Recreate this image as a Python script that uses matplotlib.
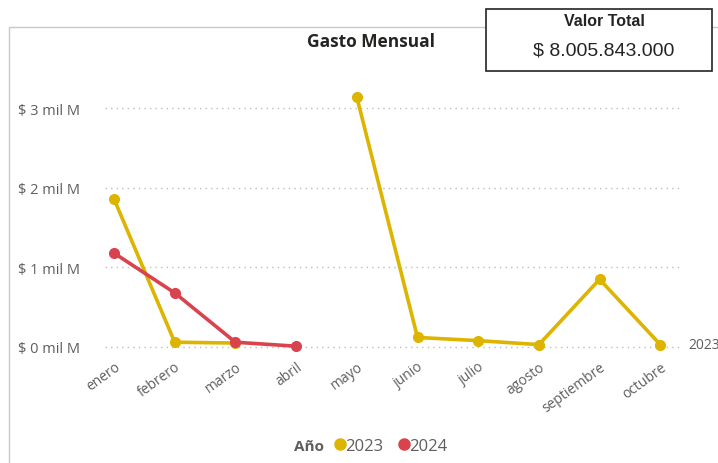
import matplotlib.pyplot as plt
from matplotlib.lines import Line2D
from matplotlib.patches import Rectangle
from matplotlib.transforms import ScaledTranslation
import numpy as np

# ── Data (miles de millones de pesos) ─────────────────────────────────────────
meses = ['enero', 'febrero', 'marzo', 'abril', 'mayo',
         'junio', 'julio', 'agosto', 'septiembre', 'octubre']
gasto_2023 = [1.86, 0.06, 0.05, np.nan, 3.14, 0.12, 0.08, 0.03, 0.85, 0.03]
gasto_2024 = [1.18, 0.68, 0.06, 0.01]
yticks = [0, 1, 2, 3]
valor_total = '$ 8.005.843.000'

C23 = '#DDB400'
C24 = '#D9434E'
GRAY = '#605E5C'

plt.rcParams['font.family'] = ['Open Sans', 'DejaVu Sans']

W, H = 718, 464
fig = plt.figure(figsize=(W / 100, H / 100), dpi=100)


def fx(px):
    return px / W


def fy(py):
    return 1 - py / H


# chart frame
fig.add_artist(Rectangle((fx(9), fy(500)), fx(740) - fx(9), fy(28) - fy(500),
                         transform=fig.transFigure, fill=False,
                         edgecolor='#C8C8C8', lw=1.0))

# ── Plot area ─────────────────────────────────────────────────────────────────
left, right, top, bottom = 105, 683, 90, 360
ax = fig.add_axes([fx(left), fy(bottom), fx(right) - fx(left), fy(top) - fy(bottom)])
x = np.arange(len(meses))
ax.plot(x, gasto_2023, color=C23, lw=2.6, marker='o', ms=7, zorder=3)
ax.plot(x[:len(gasto_2024)], gasto_2024, color=C24, lw=2.6, marker='o', ms=7, zorder=4)

step = 60.7
ax.set_xlim((left - 114) / step, (right - 114) / step)
ax.set_ylim((348 - bottom) / 79.6, (348 - top) / 79.6)

ax.set_yticks(yticks)
ax.set_yticklabels([f'$ {v} mil M' for v in yticks], color=GRAY, fontsize=10.5)
ax.yaxis.grid(True, linestyle=(0, (1, 3)), color='#BDBDBD', lw=1)
ax.set_xticks(x)
ax.set_xticklabels(meses, rotation=36, ha='right', va='top',
                   rotation_mode='anchor', color=GRAY, fontsize=10)
shift = ScaledTranslation(-10 / 100, 0, fig.dpi_scale_trans)
for lbl in ax.get_xticklabels():
    lbl.set_transform(lbl.get_transform() + shift)
ax.tick_params(length=0)
ax.tick_params(axis='y', pad=18)
ax.tick_params(axis='x', pad=0)
for s in ax.spines.values():
    s.set_visible(False)
ax.patch.set_alpha(0)

# series label at the end of the line (runs off the right edge)
ax.text(9.46, gasto_2023[-1], '2023', color=GRAY, fontsize=10,
        va='center', ha='left', clip_on=False)

# ── Title ─────────────────────────────────────────────────────────────────────
fig.text(fx(371), fy(42), 'Gasto Mensual', ha='center', va='center',
         fontsize=12.5, fontweight='bold', color='#252423')

# ── Card ──────────────────────────────────────────────────────────────────────
fig.add_artist(Rectangle((fx(486), fy(72)), fx(712) - fx(486), fy(10) - fy(72),
                         transform=fig.transFigure, facecolor='white',
                         edgecolor='#252423', lw=1.2, zorder=5))
fig.text(fx(604), fy(21), 'Valor Total', ha='center', va='center', zorder=6,
         fontsize=11.5, fontweight='bold', color='#252423', family='Liberation Sans')
fig.text(fx(604), fy(51), valor_total, ha='center', va='center', zorder=6,
         fontsize=14, color='#252423', family='Liberation Sans')

# ── Legend ────────────────────────────────────────────────────────────────────
fig.text(fx(294), fy(447), 'Año', ha='left', va='center',
         fontsize=11, fontweight='bold', color=GRAY)
handles = [Line2D([], [], ls='', marker='o', ms=8, color=C23),
           Line2D([], [], ls='', marker='o', ms=8, color=C24)]
fig.legend(handles, ['2023', '2024'], loc='center left',
           bbox_to_anchor=(fx(323), fy(447)), ncol=2, frameon=False,
           handletextpad=-0.3, columnspacing=0.65, handlelength=1.2,
           borderaxespad=0, labelcolor=GRAY, prop={'size': 12})

fig.savefig('out.png', dpi=100)
